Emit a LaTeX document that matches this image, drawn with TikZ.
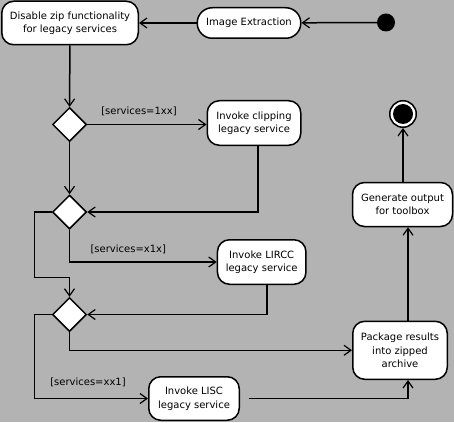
\documentclass[tikz,border=0pt]{standalone}
\usepackage{fontspec}
\setmainfont{DejaVu Sans}
\usetikzlibrary{shapes.geometric,arrows.meta}
\definecolor{bg}{RGB}{179,179,179}
\begin{document}
\begin{tikzpicture}[x=1pt,y=1pt,
  act/.style={draw,fill=white,line width=1.5pt,rounded corners=12pt,align=center,font=\fontsize{10}{13.5}\selectfont,inner sep=0pt},
  dec/.style={draw,fill=white,diamond,line width=1.5pt,minimum width=34pt,minimum height=34pt,inner sep=0pt},
  flow/.style={line width=1.5pt,-{Straight Barb[length=7pt,width=10pt,line width=1.2pt]}},
  guard/.style={font=\fontsize{10}{12}\selectfont,inner sep=0pt}]
\fill[bg] (0,0) rectangle (454,-422);
\useasboundingbox (0,0) rectangle (454,-422);
\node[act,minimum width=136.5pt,minimum height=43.5pt] (dis) at (70,-23) {Disable zip functionality\\for legacy services};
\node[act,rounded corners=15pt,minimum width=103.5pt,minimum height=30.5pt] (img) at (249,-23) {Image Extraction};
\node[circle,fill=black,minimum size=18pt,inner sep=0pt] (init) at (386,-22.5) {};
\node[dec] (d1) at (69.5,-124.5) {};
\node[act,minimum width=93.5pt,minimum height=44.5pt] (clip) at (254,-123) {Invoke clipping\\legacy service};
\node[circle,draw,line width=1.5pt,fill=white,minimum size=26.5pt,inner sep=0pt] (fin) at (403,-114) {};
\fill (fin.center) circle (10pt);
\node[dec] (d2) at (69.5,-212) {};
\node[act,minimum width=100pt,minimum height=44pt] (gen) at (402.5,-204.5) {Generate output\\for toolbox};
\node[act,minimum width=88.5pt,minimum height=44.5pt] (lircc) at (261.7,-262) {Invoke LIRCC\\legacy service};
\node[dec] (d3) at (69.5,-314.5) {};
\node[act,minimum width=94.5pt,minimum height=58pt] (pkg) at (400,-350.3) {Package results\\into zipped\\archive};
\node[act,minimum width=90.5pt,minimum height=43.5pt] (lisc) at (194,-398.5) {Invoke LISC\\legacy service};
\node[guard] (g1) at (139,-111) {[services=1xx]};
\node[guard] (g2) at (128.3,-249) {[services=x1x]};
\node[guard] (g3) at (88,-382) {[services=xx1]};
\coordinate (j1) at (34.5,-277.5);
\coordinate (j2) at (34.5,-314.5);
\draw[flow] (init) -- (img);
\draw[flow] (img.west) -- (img.west -| dis.east);
\draw[flow] (dis) -- (d1);
\draw[flow] (d1) -- (d1 -| clip.west);
\draw[flow] (d1) -- (d2);
\draw[flow] ([xshift=4pt]clip.south) |- (d2.east);
\draw[flow] (d2.west) -| (j1) -- (j1 -| d3.north) -- (d3.north);
\draw[flow] (d2.south) |- (lircc.west);
\draw[flow] ([xshift=5.5pt]lircc.south) |- (d3.east);
\draw[flow] (d3.west) -- (j2) |- (lisc.west);
\draw[flow] (d3.south) |- (pkg.west);
\draw[flow,shorten <=9pt] (lisc.east) -| ([xshift=8pt]pkg.south);
\draw[flow] ([xshift=8pt]pkg.north) -- ([xshift=8pt]pkg.north |- gen.south);
\draw[flow] (gen.north -| fin.south) -- (fin.south);
\end{tikzpicture}
\end{document}
